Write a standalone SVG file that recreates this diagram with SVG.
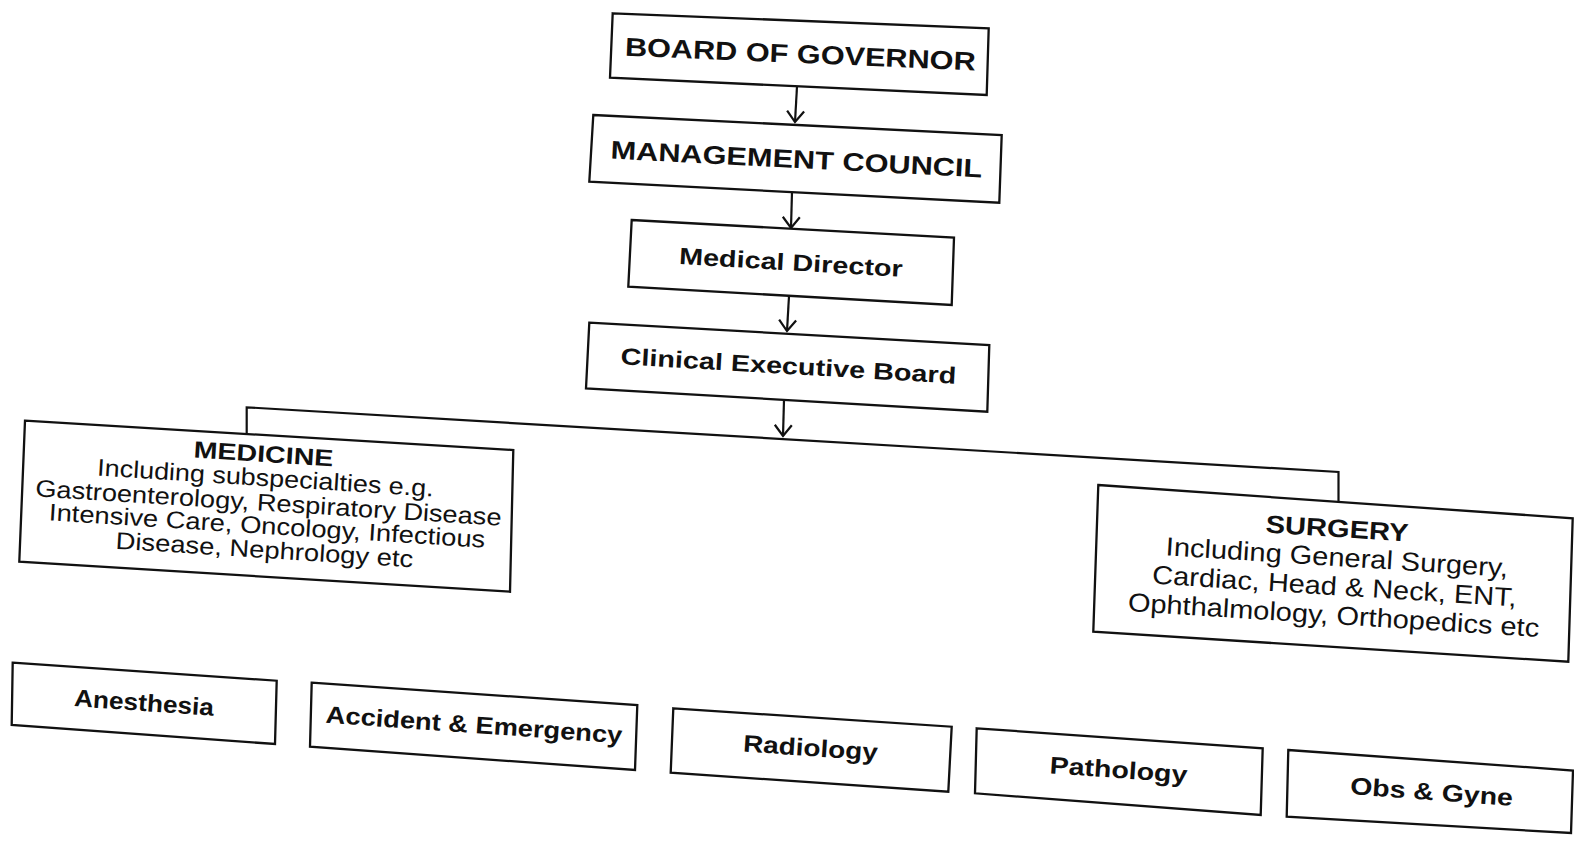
<svg xmlns="http://www.w3.org/2000/svg" width="1574" height="841" viewBox="0 0 1574 841">
<style>
.box{fill:#fff;stroke:#111;stroke-width:2.3;stroke-linejoin:miter}
.con{fill:none;stroke:#111;stroke-width:2.2}
.t{font-family:"Liberation Sans",Arial,sans-serif;fill:#111;text-anchor:middle}
.b{font-weight:bold}
</style>
<defs>
<marker id="ah" markerUnits="userSpaceOnUse" viewBox="-14 -10 16 20" refX="0" refY="0" markerWidth="16" markerHeight="20" orient="auto">
<path d="M-11,-8.5 L0,0 L-11,8.5" fill="none" stroke="#111" stroke-width="2.2"/>
</marker>
</defs>
<rect width="1574" height="841" fill="#fff"/>
<g id="connectors">
<line class="con" x1="797" y1="86.5" x2="795" y2="122" marker-end="url(#ah)"/>
<line class="con" x1="792" y1="192" x2="791" y2="228" marker-end="url(#ah)"/>
<line class="con" x1="789" y1="296" x2="787" y2="331" marker-end="url(#ah)"/>
<line class="con" x1="784" y1="400" x2="783" y2="436" marker-end="url(#ah)"/>
<polyline class="con" points="246.7,433 246.7,407.3 1338.5,472 1338.5,502"/>
</g>
<g id="board">
<polygon class="box" points="612.7,13.3 988.7,28.3 986.7,95 610,77.7"/>
<text class="t b" x="800" y="63" font-size="26" textLength="351" lengthAdjust="spacingAndGlyphs" transform="rotate(2.4 800 63)">BOARD OF GOVERNOR</text>
</g>
<g id="management">
<polygon class="box" points="593.3,115 1001.7,135 999.3,202.7 589.3,181.7"/>
<text class="t b" x="796" y="168" font-size="25.5" textLength="372" lengthAdjust="spacingAndGlyphs" transform="rotate(2.9 796 168)">MANAGEMENT COUNCIL</text>
</g>
<g id="medical-director">
<polygon class="box" points="631.7,220 954,237.7 951.7,305 628.3,286.7"/>
<text class="t b" x="790.5" y="270.5" font-size="23.5" textLength="224" lengthAdjust="spacingAndGlyphs" transform="rotate(3.3 790.5 270.5)">Medical Director</text>
</g>
<g id="clinical-executive-board">
<polygon class="box" points="589.3,322.7 989.3,345 987.3,411.7 586,388.3"/>
<text class="t b" x="788" y="374" font-size="23.5" textLength="336" lengthAdjust="spacingAndGlyphs" transform="rotate(3.3 788 374)">Clinical Executive Board</text>
</g>
<g id="medicine">
<polygon class="box" points="25,420.7 513.3,450 510,591.7 19.3,561.7"/>
<text class="t b" x="263" y="462" font-size="23.5" textLength="140" lengthAdjust="spacingAndGlyphs" transform="rotate(3.6 263 462)">MEDICINE</text>
<text class="t" x="265" y="486" font-size="24" textLength="337" lengthAdjust="spacingAndGlyphs" transform="rotate(3.6 265 486)">Including subspecialties e.g.</text>
<text class="t" x="268" y="511" font-size="24" textLength="467" lengthAdjust="spacingAndGlyphs" transform="rotate(3.6 268 511)">Gastroenterology, Respiratory Disease</text>
<text class="t" x="266.7" y="534" font-size="24" textLength="437" lengthAdjust="spacingAndGlyphs" transform="rotate(3.6 266.7 534)">Intensive Care, Oncology, Infectious</text>
<text class="t" x="264" y="558" font-size="24" textLength="298" lengthAdjust="spacingAndGlyphs" transform="rotate(3.6 264 558)">Disease, Nephrology etc</text>
</g>
<g id="surgery">
<polygon class="box" points="1098.3,485 1572.7,518.3 1568.3,661.7 1093.3,631.7"/>
<text class="t b" x="1336.5" y="537" font-size="25" textLength="143" lengthAdjust="spacingAndGlyphs" transform="rotate(3.6 1336.5 537)">SURGERY</text>
<text class="t" x="1336.5" y="566" font-size="26" textLength="343" lengthAdjust="spacingAndGlyphs" transform="rotate(3.6 1336.5 566)">Including General Surgery,</text>
<text class="t" x="1334" y="595" font-size="26" textLength="365" lengthAdjust="spacingAndGlyphs" transform="rotate(3.6 1334 595)">Cardiac, Head &amp; Neck, ENT,</text>
<text class="t" x="1333" y="624" font-size="26" textLength="412" lengthAdjust="spacingAndGlyphs" transform="rotate(3.6 1333 624)">Ophthalmology, Orthopedics etc</text>
</g>
<g id="anesthesia">
<polygon class="box" points="12.7,662.7 276.7,680.7 275,744 11.7,725"/>
<text class="t b" x="143.5" y="711" font-size="24" textLength="140" lengthAdjust="spacingAndGlyphs" transform="rotate(4 143.5 711)">Anesthesia</text>
</g>
<g id="accident-emergency">
<polygon class="box" points="311.7,682.7 637.3,705 635,770 310,746.7"/>
<text class="t b" x="473.5" y="733" font-size="24" textLength="297" lengthAdjust="spacingAndGlyphs" transform="rotate(4 473.5 733)">Accident &amp; Emergency</text>
</g>
<g id="radiology">
<polygon class="box" points="673.3,708.3 951.7,726.7 948.3,791.7 670.7,772.7"/>
<text class="t b" x="810" y="756" font-size="24" textLength="135" lengthAdjust="spacingAndGlyphs" transform="rotate(3.8 810 756)">Radiology</text>
</g>
<g id="pathology">
<polygon class="box" points="976.7,728.3 1262.7,748.3 1260.7,815 975,793.3"/>
<text class="t b" x="1118" y="778" font-size="24" textLength="138" lengthAdjust="spacingAndGlyphs" transform="rotate(4 1118 778)">Pathology</text>
</g>
<g id="obs-gyne">
<polygon class="box" points="1288.3,750 1573,770.5 1571,833 1286.7,816.7"/>
<text class="t b" x="1431" y="800" font-size="24" textLength="163" lengthAdjust="spacingAndGlyphs" transform="rotate(4.2 1431 800)">Obs &amp; Gyne</text>
</g>
</svg>
